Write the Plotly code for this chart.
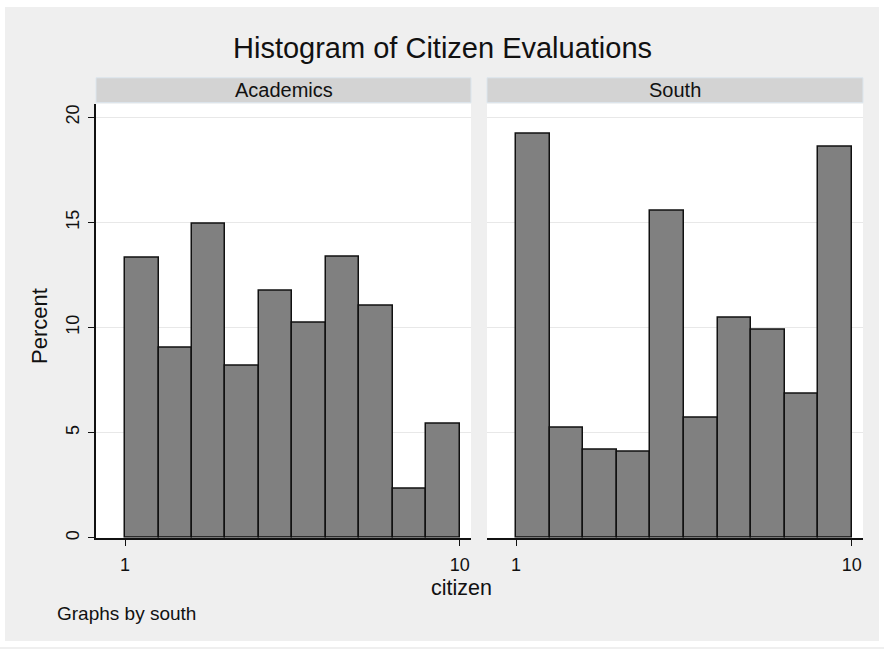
import plotly.graph_objects as go

# ---- data ----
panels = ["Academics", "South"]
bin_edges = [1.0, 1.9, 2.8, 3.7, 4.6, 5.5, 6.4, 7.3, 8.2, 9.1, 10.0]
academics_pct = [13.3, 9.05, 14.95, 8.2, 11.75, 10.25, 13.35, 11.05, 2.35, 5.45]
south_pct = [19.2, 5.25, 4.2, 4.1, 15.55, 5.7, 10.45, 9.9, 6.85, 18.6]
y_ticks = [0, 5, 10, 15, 20]
x_ticks = [1, 10]
x_tick_labels = ["1", "10"]

W, H = 884, 649
def px(x):
    return x / W
def py(y):
    return 1 - y / H

centers = [(a + b) / 2 for a, b in zip(bin_edges[:-1], bin_edges[1:])]
widths = [b - a for a, b in zip(bin_edges[:-1], bin_edges[1:])]

FONT = "Liberation Sans, Arial, sans-serif"
BG = "#EFEFEF"
INK = "#111111"

fig = go.Figure()
for i, vals in enumerate([academics_pct, south_pct]):
    fig.add_trace(go.Bar(
        x=centers, y=vals, width=widths,
        marker=dict(color="#808080", line=dict(color=INK, width=1.5)),
        xaxis="x" if i == 0 else "x2", yaxis="y" if i == 0 else "y2",
        showlegend=False, hoverinfo="x+y",
    ))

y_top = 104
y_bot = 539.5
yrange = [0, 20.64]
xrange = [0.22, 10.3]

common_x = dict(range=xrange, tickvals=x_ticks, ticktext=x_tick_labels,
                showgrid=False, zeroline=False, showline=True, linecolor=INK,
                linewidth=1.5, ticks="outside", ticklen=6, tickwidth=1.2,
                tickcolor=INK, tickfont=dict(family=FONT, size=18, color=INK),
                ticklabelstandoff=4, fixedrange=True)
fig.update_layout(
    width=W, height=H,
    margin=dict(l=0, r=0, t=0, b=0),
    paper_bgcolor=BG, plot_bgcolor="white",
    xaxis=dict(domain=[px(96), px(471)], anchor="y", **common_x),
    xaxis2=dict(domain=[px(487), px(863)], anchor="y2", **common_x),
    yaxis=dict(domain=[py(y_bot), py(y_top)], range=yrange, tickvals=y_ticks,
               showgrid=True, gridcolor="#E8E8E8", gridwidth=1, zeroline=False,
               showline=True, linecolor=INK, linewidth=1.5,
               ticks="outside", ticklen=6, tickwidth=1.2, tickcolor=INK,
               tickangle=-90, tickfont=dict(family=FONT, size=18, color=INK),
               ticklabelstandoff=2, anchor="x", fixedrange=True),
    yaxis2=dict(domain=[py(y_bot), py(y_top)], range=yrange, tickvals=y_ticks,
                showgrid=True, gridcolor="#E8E8E8", gridwidth=1, zeroline=False,
                showline=False, showticklabels=False, ticks="",
                anchor="x2", fixedrange=True),
    bargap=0,
)

shapes = []
# white outer frame bands
for (x0, y0, x1, y1) in [(0, 0, W, 7), (0, 0, 5, H), (879, 0, W, H), (0, 643, W, H)]:
    shapes.append(dict(type="rect", xref="paper", yref="paper",
                       x0=px(x0), x1=px(x1), y0=py(y1), y1=py(y0),
                       fillcolor="white", line=dict(width=0), layer="below"))
annotations = []
for (x0, x1), name in zip([(96, 471), (487, 863)], panels):
    shapes.append(dict(type="rect", xref="paper", yref="paper",
                       x0=px(x0), x1=px(x1), y0=py(103), y1=py(78),
                       fillcolor="#D3D3D3", line=dict(color="#DCE6EE", width=1), layer="above"))
    annotations.append(dict(text=name, xref="paper", yref="paper",
                            x=px((x0 + x1) / 2), y=py(90.5), showarrow=False,
                            xanchor="center", yanchor="middle",
                            font=dict(family=FONT, size=20, color=INK)))

annotations += [
    dict(text="Histogram of Citizen Evaluations", xref="paper", yref="paper",
         x=px(442), y=py(48), showarrow=False, xanchor="center", yanchor="middle",
         font=dict(family=FONT, size=29, color=INK)),
    dict(text="Percent", xref="paper", yref="paper", x=px(40), y=py(327),
         showarrow=False, textangle=-90, xanchor="center", yanchor="middle",
         font=dict(family=FONT, size=22, color=INK)),
    dict(text="citizen", xref="paper", yref="paper", x=px(461), y=py(590),
         showarrow=False, xanchor="center", yanchor="middle",
         font=dict(family=FONT, size=21.5, color=INK)),
    dict(text="Graphs by south", xref="paper", yref="paper", x=px(55), y=py(615),
         showarrow=False, xanchor="left", yanchor="middle",
         font=dict(family=FONT, size=19, color=INK)),
]
fig.update_layout(shapes=shapes, annotations=annotations)

fig.write_html("out.html", config={"displayModeBar": False},
               post_script="document.body.style.margin='0';document.body.style.overflow='hidden';")
